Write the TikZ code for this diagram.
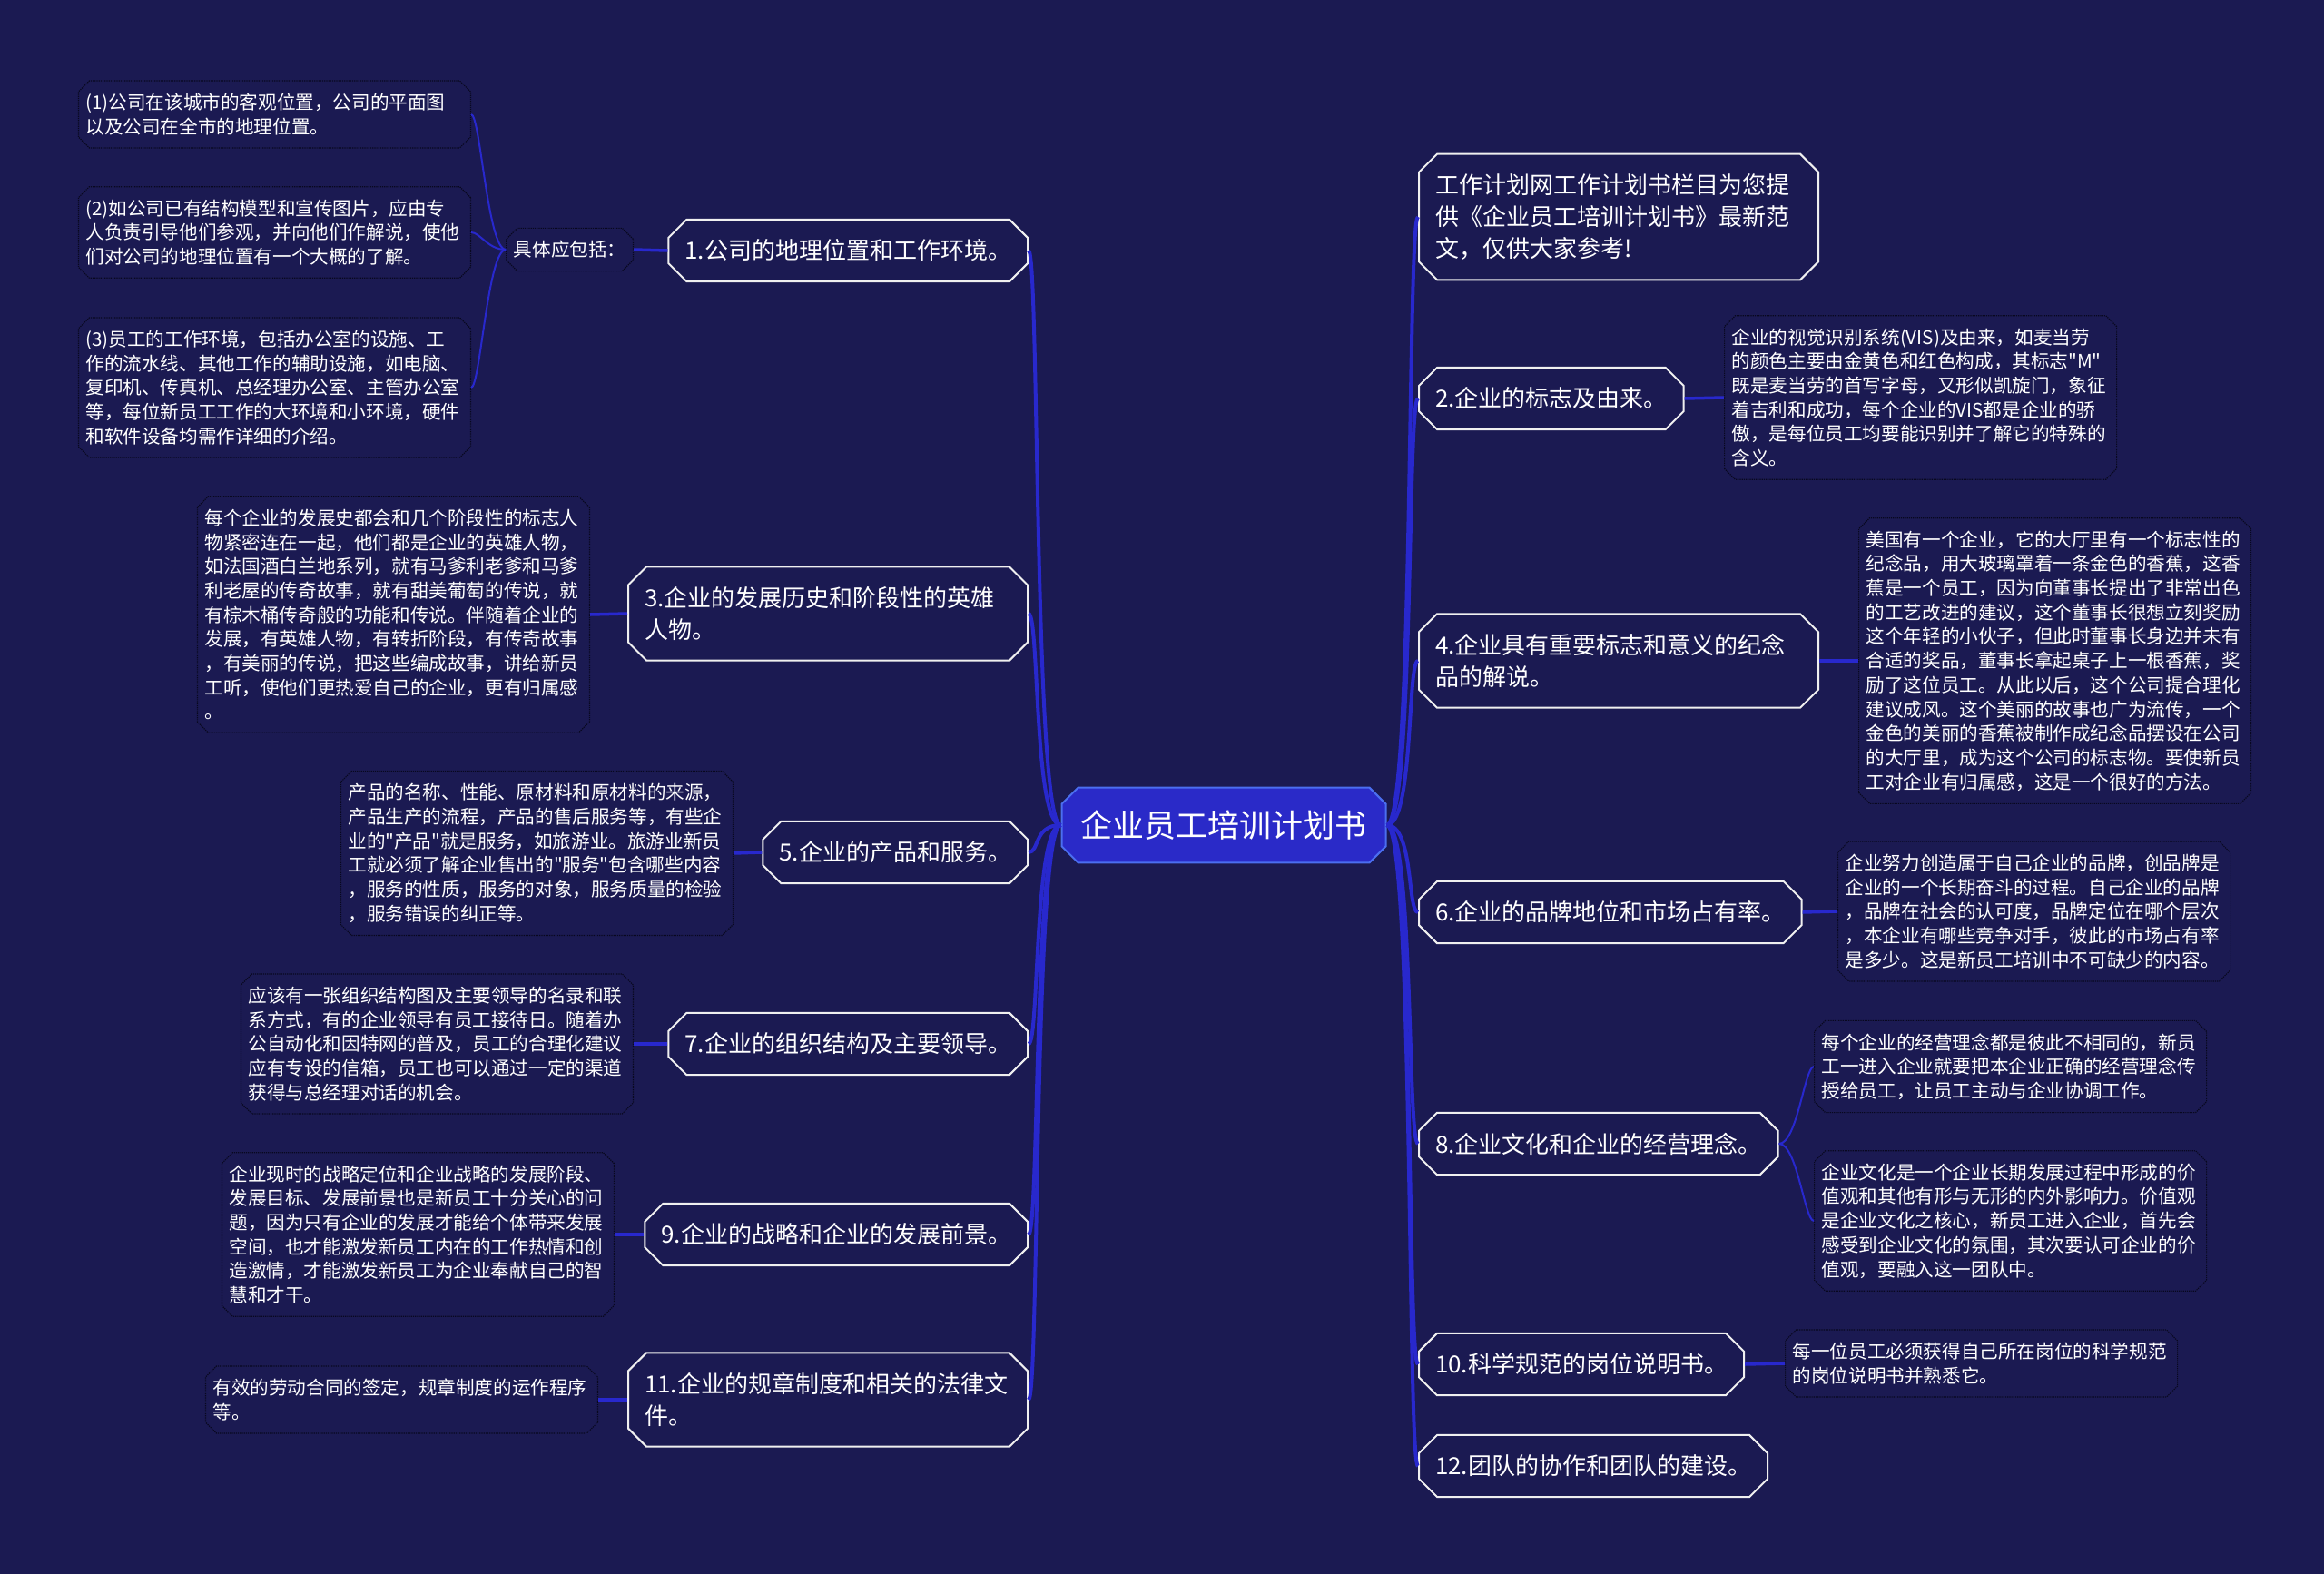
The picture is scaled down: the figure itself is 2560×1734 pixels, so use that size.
\documentclass[tikz,border=0pt]{standalone}
\usepackage{fontspec}
\setmainfont{Noto Sans CJK SC}[Ligatures=TeXOff]
\usetikzlibrary{shapes.misc}

\definecolor{bgnavy}{RGB}{27,26,82}
\definecolor{linkblue}{RGB}{40,40,205}
\definecolor{rootfill}{RGB}{42,42,200}
\definecolor{rootline}{RGB}{75,110,240}
\definecolor{leafline}{RGB}{8,8,30}

\tikzset{
  root/.style={chamfered rectangle, chamfered rectangle sep=9pt, fill=rootfill,
    draw=rootline, line width=2pt, text=white, font=\fontsize{35}{42}\selectfont,
    inner xsep=12pt, inner ysep=16pt},
  topic/.style={chamfered rectangle, chamfered rectangle sep=10pt, fill=bgnavy,
    draw=white!88!gray, line width=2pt, text=white, font=\fontsize{26}{35}\selectfont,
    align=left, inner xsep=8pt, inner ysep=12pt},
  wide/.style={text width=404pt},
  leaf/.style={chamfered rectangle, chamfered rectangle sep=6pt, draw=leafline,
    densely dotted, line width=1.2pt, text=white, font=\fontsize{20.6}{26.7}\selectfont,
    align=left, inner xsep=2pt, inner ysep=8pt},
  leafbox/.style={leaf, text width=416pt},
  trunk/.style={draw=linkblue, line width=4pt},
  twig/.style={draw=linkblue, line width=3.5pt},
  fan/.style={draw=linkblue, line width=2pt},
}

\begin{document}
\begin{tikzpicture}[x=1pt,y=-1pt]
\useasboundingbox (0,0) rectangle (2560,1734);
\fill[bgnavy] (0,0) rectangle (2560,1734);

% centre
\node[root] (c) at (1348,909) {企业员工培训计划书};

% left topics
\node[topic, anchor=east] (b1) at (1133,276) {1.公司的地理位置和工作环境。};
\node[topic, wide, anchor=east] (b3) at (1133,676) {3.企业的发展历史和阶段性的英雄\\人物。};
\node[topic, anchor=east] (b5) at (1133,939) {5.企业的产品和服务。};
\node[topic, anchor=east] (b7) at (1133,1150) {7.企业的组织结构及主要领导。};
\node[topic, anchor=east] (b9) at (1133,1360) {9.企业的战略和企业的发展前景。};
\node[topic, wide, anchor=east] (b11) at (1133,1542) {11.企业的规章制度和相关的法律文\\件。};

% right topics
\node[topic, wide, anchor=west] (b0) at (1562,239) {工作计划网工作计划书栏目为您提\\供《企业员工培训计划书》最新范\\文，仅供大家参考!};
\node[topic, anchor=west] (b2) at (1562,439) {2.企业的标志及由来。};
\node[topic, wide, anchor=west] (b4) at (1562,728) {4.企业具有重要标志和意义的纪念\\品的解说。};
\node[topic, anchor=west] (b6) at (1562,1005) {6.企业的品牌地位和市场占有率。};
\node[topic, anchor=west] (b8) at (1562,1260) {8.企业文化和企业的经营理念。};
\node[topic, anchor=west] (b10) at (1562,1503) {10.科学规范的岗位说明书。};
\node[topic, anchor=west] (b12) at (1562,1615) {12.团队的协作和团队的建设。};

% left details
\node[leaf, anchor=east] (kw) at (698,275) {具体应包括：};
\node[leafbox, anchor=east] (l1a) at (519,126) {(1)公司在该城市的客观位置，公司的平面图\\以及公司在全市的地理位置。};
\node[leafbox, anchor=east] (l1b) at (519,256) {(2)如公司已有结构模型和宣传图片，应由专\\人负责引导他们参观，并向他们作解说，使他\\们对公司的地理位置有一个大概的了解。};
\node[leafbox, anchor=east] (l1c) at (519,427) {(3)员工的工作环境，包括办公室的设施、工\\作的流水线、其他工作的辅助设施，如电脑、\\复印机、传真机、总经理办公室、主管办公室\\等，每位新员工工作的大环境和小环境，硬件\\和软件设备均需作详细的介绍。};
\node[leafbox, anchor=east] (l3) at (650,677) {每个企业的发展史都会和几个阶段性的标志人\\物紧密连在一起，他们都是企业的英雄人物，\\如法国酒白兰地系列，就有马爹利老爹和马爹\\利老屋的传奇故事，就有甜美葡萄的传说，就\\有棕木桶传奇般的功能和传说。伴随着企业的\\发展，有英雄人物，有转折阶段，有传奇故事\\，有美丽的传说，把这些编成故事，讲给新员\\工听，使他们更热爱自己的企业，更有归属感\\。};
\node[leafbox, anchor=east] (l5) at (808,940) {产品的名称、性能、原材料和原材料的来源，\\产品生产的流程，产品的售后服务等，有些企\\业的"产品"就是服务，如旅游业。旅游业新员\\工就必须了解企业售出的"服务"包含哪些内容\\，服务的性质，服务的对象，服务质量的检验\\，服务错误的纠正等。};
\node[leafbox, anchor=east] (l7) at (698,1150) {应该有一张组织结构图及主要领导的名录和联\\系方式，有的企业领导有员工接待日。随着办\\公自动化和因特网的普及，员工的合理化建议\\应有专设的信箱，员工也可以通过一定的渠道\\获得与总经理对话的机会。};
\node[leafbox, anchor=east] (l9) at (677,1360) {企业现时的战略定位和企业战略的发展阶段、\\发展目标、发展前景也是新员工十分关心的问\\题，因为只有企业的发展才能给个体带来发展\\空间，也才能激发新员工内在的工作热情和创\\造激情，才能激发新员工为企业奉献自己的智\\慧和才干。};
\node[leafbox, anchor=east] (l11) at (659,1542) {有效的劳动合同的签定，规章制度的运作程序\\等。};

% right details
\node[leafbox, anchor=west] (r2) at (1899,438) {企业的视觉识别系统(VIS)及由来，如麦当劳\\的颜色主要由金黄色和红色构成，其标志"M"\\既是麦当劳的首写字母，又形似凯旋门，象征\\着吉利和成功，每个企业的VIS都是企业的骄\\傲，是每位员工均要能识别并了解它的特殊的\\含义。};
\node[leafbox, anchor=west] (r4) at (2047,728) {美国有一个企业，它的大厅里有一个标志性的\\纪念品，用大玻璃罩着一条金色的香蕉，这香\\蕉是一个员工，因为向董事长提出了非常出色\\的工艺改进的建议，这个董事长很想立刻奖励\\这个年轻的小伙子，但此时董事长身边并未有\\合适的奖品，董事长拿起桌子上一根香蕉，奖\\励了这位员工。从此以后，这个公司提合理化\\建议成风。这个美丽的故事也广为流传，一个\\金色的美丽的香蕉被制作成纪念品摆设在公司\\的大厅里，成为这个公司的标志物。要使新员\\工对企业有归属感，这是一个很好的方法。};
\node[leafbox, anchor=west] (r6) at (2024,1004) {企业努力创造属于自己企业的品牌，创品牌是\\企业的一个长期奋斗的过程。自己企业的品牌\\，品牌在社会的认可度，品牌定位在哪个层次\\，本企业有哪些竞争对手，彼此的市场占有率\\是多少。这是新员工培训中不可缺少的内容。};
\node[leafbox, anchor=west] (r8a) at (1998,1175) {每个企业的经营理念都是彼此不相同的，新员\\工一进入企业就要把本企业正确的经营理念传\\授给员工，让员工主动与企业协调工作。};
\node[leafbox, anchor=west] (r8b) at (1998,1345) {企业文化是一个企业长期发展过程中形成的价\\值观和其他有形与无形的内外影响力。价值观\\是企业文化之核心，新员工进入企业，首先会\\感受到企业文化的氛围，其次要认可企业的价\\值观，要融入这一团队中。};
\node[leafbox, anchor=west] (r10) at (1966,1502) {每一位员工必须获得自己所在岗位的科学规范\\的岗位说明书并熟悉它。};

% connectors
\foreach \n in {b1,b3,b5,b7,b9,b11}
  \draw[trunk] (c.west) .. controls +(-30,0) and +(12,0) .. (\n.east);
\foreach \n in {b0,b2,b4,b6,b8,b10,b12}
  \draw[trunk] (c.east) .. controls +(30,0) and +(-12,0) .. (\n.west);

\draw[twig] (b1.west) -- (kw.east);
\draw[twig] (b3.west) -- (l3.east);
\draw[twig] (b5.west) -- (l5.east);
\draw[twig] (b7.west) -- (l7.east);
\draw[twig] (b9.west) -- (l9.east);
\draw[twig] (b11.west) -- (l11.east);
\draw[twig] (b2.east) -- (r2.west);
\draw[twig] (b4.east) -- (r4.west);
\draw[twig] (b6.east) -- (r6.west);
\draw[twig] (b10.east) -- (r10.west);

\foreach \n in {l1a,l1b,l1c}
  \draw[fan] (kw.west) .. controls +(-20,0) and +(10,0) .. (\n.east);
\foreach \n in {r8a,r8b}
  \draw[fan] (b8.east) .. controls +(20,0) and +(-10,0) .. (\n.west);
\end{tikzpicture}
\end{document}
